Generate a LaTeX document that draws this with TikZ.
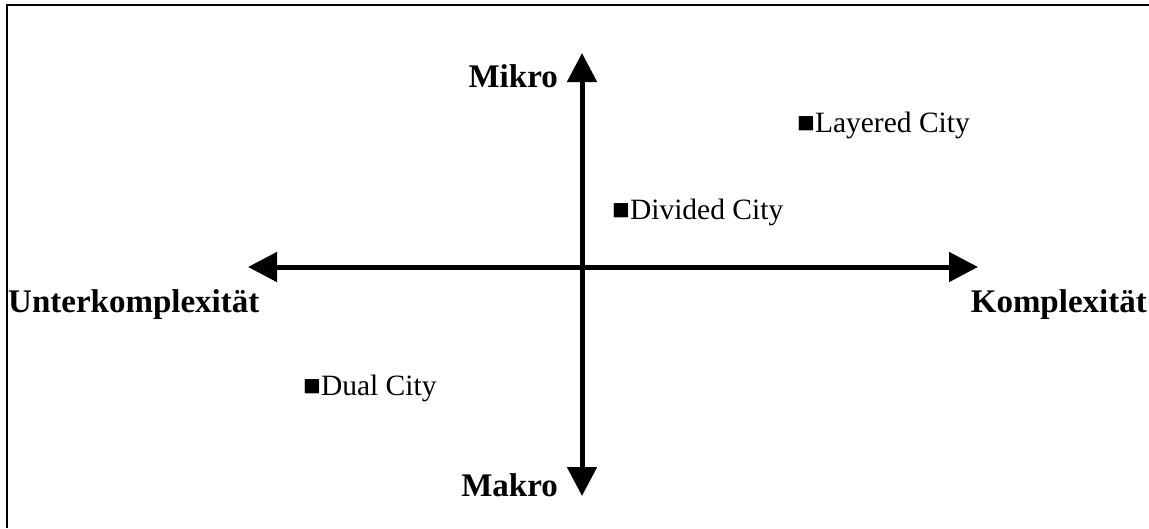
\documentclass[tikz,border=0pt]{standalone}
\usepackage{fontspec}
\setmainfont{Liberation Serif}
\usetikzlibrary{arrows.meta}
\tikzset{
  axis/.style={line width=5pt, {Triangle[length=29pt,width=29pt]}-{Triangle[length=29pt,width=29pt]}},
  axlabel/.style={inner sep=0pt, font=\fontsize{33}{37}\selectfont\bfseries},
  city/.style={inner sep=0pt, anchor=west, font=\fontsize{29.5}{33}\selectfont},
  frame/.style={line width=2.5pt}
}
\begin{document}
\begin{tikzpicture}[x=1pt,y=-1pt]
\useasboundingbox (0,0) rectangle (1149,528);
\coordinate (fb) at (7,528);
\coordinate (fc) at (7,5);
\coordinate (fr) at (1149,5);
\draw[frame] (fb) -- (fc) -- (fr);
\coordinate (top) at (582,53);
\coordinate (bot) at (582,496);
\coordinate (lft) at (248,267);
\coordinate (rgt) at (978,267);
\draw[axis] (top) -- (bot);
\draw[axis] (lft) -- (rgt);
\node[axlabel, anchor=east] (mikro) at (558,76) {Mikro};
\node[axlabel, anchor=east] (makro) at (558,485) {Makro};
\node[axlabel, anchor=west] (unter) at (8,305) {Unterkomplexität};
\node[axlabel, anchor=east] (komp) at (1147,305) {Komplexität};
\node[city] (layered) at (797,125) {■Layered City};
\node[city] (divided) at (612,212) {■Divided City};
\node[city] (dual) at (303,388) {■Dual City};
\end{tikzpicture}
\end{document}
